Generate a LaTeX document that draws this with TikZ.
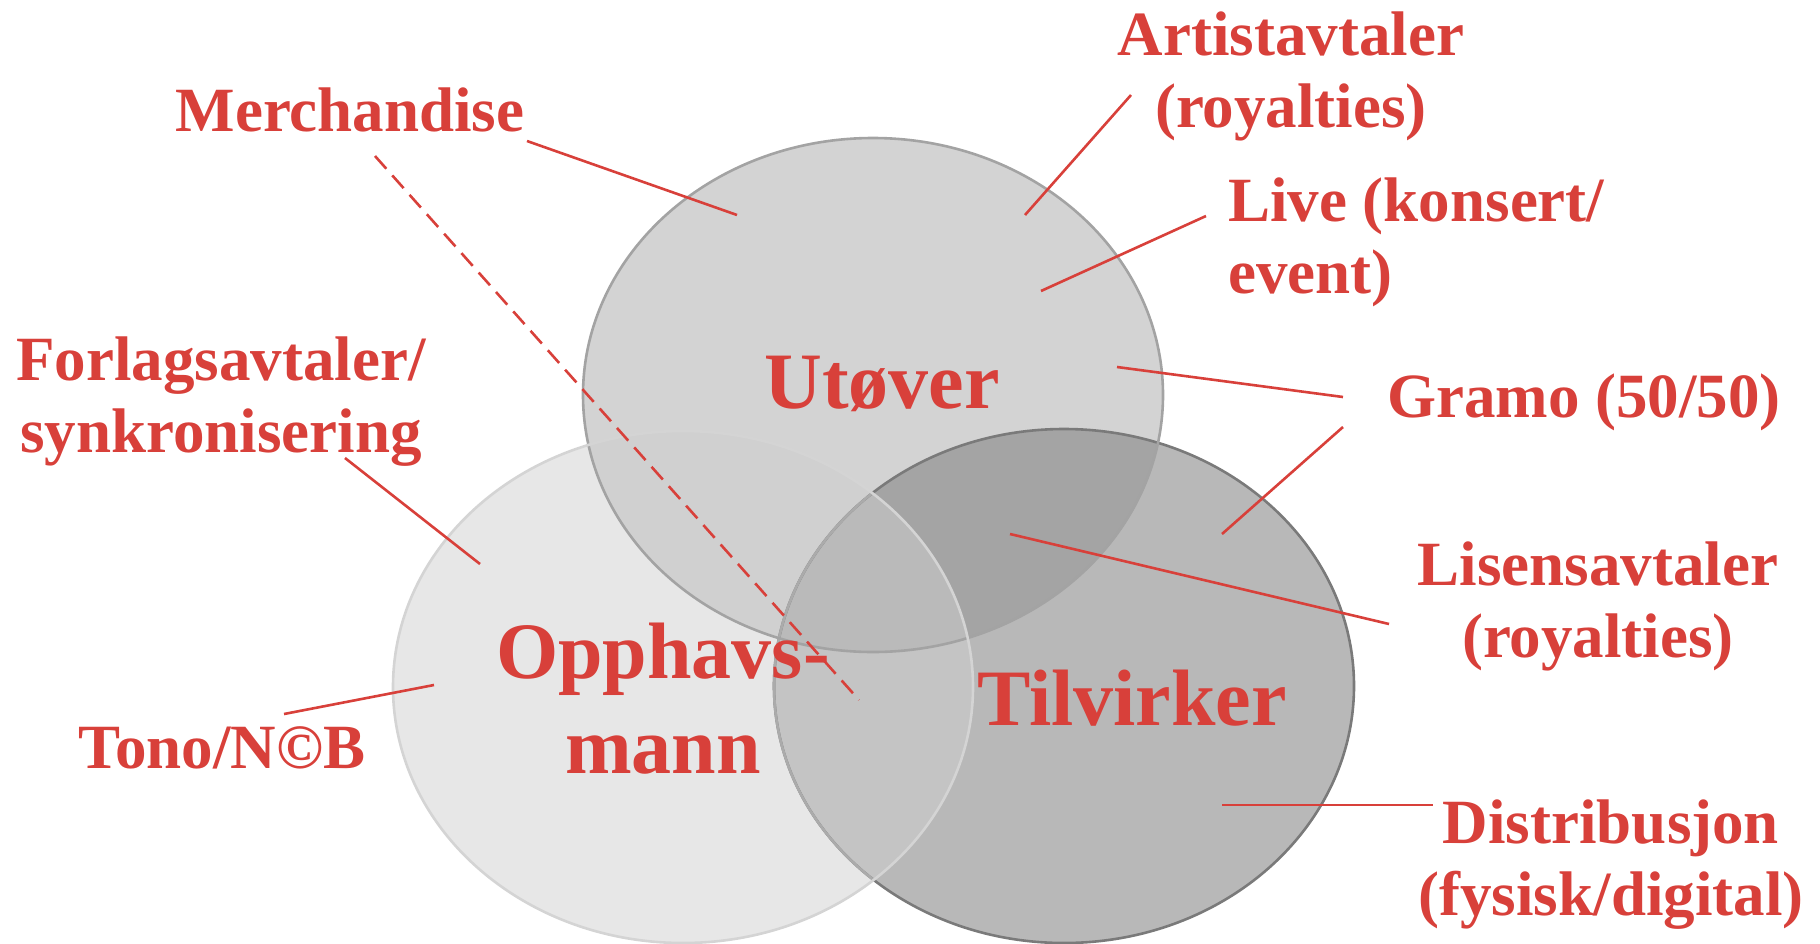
\documentclass[tikz,border=0pt]{standalone}
\usepackage{fontspec}
\setmainfont{Liberation Serif}
\usetikzlibrary{positioning}

\definecolor{labelred}{RGB}{216,64,58}
\definecolor{onlyO}{HTML}{E7E7E7}
\definecolor{onlyU}{HTML}{D3D3D3}
\definecolor{onlyT}{HTML}{B8B8B8}
\definecolor{capUO}{HTML}{D0D0D0}
\definecolor{capUT}{HTML}{A4A4A4}
\definecolor{capOT}{HTML}{C4C4C4}
\definecolor{capUOT}{HTML}{BABABA}

\newcommand\ellU{(873,395) ellipse [x radius=290pt, y radius=257pt]}
\newcommand\ellO{(683,687) ellipse [x radius=290pt, y radius=256pt]}
\newcommand\ellT{(1064,686) ellipse [x radius=290pt, y radius=257pt]}

\begin{document}
\begin{tikzpicture}[x=1pt,y=-1pt,
  lbl/.style={text=labelred,font=\bfseries\fontsize{63}{72}\selectfont,align=center,anchor=base,inner sep=0pt},
  big/.style={text=labelred,font=\bfseries\fontsize{80}{95}\selectfont,align=center,anchor=base,inner sep=0pt},
  leader/.style={draw=labelred,line width=2.6pt},
  rim/.style={line width=2.6pt}
]
\useasboundingbox (0,0) rectangle (1820,943);

% the three sets
\fill[onlyO] \ellO;
\fill[onlyU] \ellU;
\fill[onlyT] \ellT;
\begin{scope}
  \clip \ellO;
  \fill[capOT] \ellT;
\end{scope}
\begin{scope}
  \clip \ellU;
  \fill[capUO] \ellO;
  \fill[capUT] \ellT;
  \clip \ellO;
  \fill[capUOT] \ellT;
\end{scope}
\draw[rim,draw=black!52] \ellT;
\begin{scope}
  \clip \ellO;
  \draw[rim,draw=black!33] \ellT;
\end{scope}
\draw[rim,draw=black!36] \ellU;
\draw[rim,draw=black!17] \ellO;

% set names (base = last line)
\node[big] (utover) at (882,408) {Utøver};
\node[big] (opphav) at (663,773) {Opphavs-\\mann};
\node[big] (tilvirker) at (1132,725) {Tilvirker};

% labels
\node[lbl] (artist) at (1291,127) {Artistavtaler\\(royalties)};
\node[lbl] (merch) at (350,131) {Merchandise};
\node[lbl,align=left,anchor=base west] (live) at (1228,293) {Live (konsert/\\event)};
\node[lbl] (forlag) at (221,452) {Forlagsavtaler/\\synkronisering};
\node[lbl] (gramo) at (1584,417) {Gramo (50/50)};
\node[lbl] (lisens) at (1598,657) {Lisensavtaler\\(royalties)};
\node[lbl] (distr) at (1611,915) {Distribusjon\\(fysisk/digital)};
\node[lbl] (tono) at (222,768) {Tono/N©B};

% leader ends
\coordinate (merchA) at (527,141);  \coordinate (merchB) at (737,215);
\coordinate (merchC) at (375,156);  \coordinate (merchD) at (859,700);
\coordinate (artistA) at (1131,95); \coordinate (artistB) at (1025,215);
\coordinate (liveA) at (1206,216);  \coordinate (liveB) at (1041,291);
\coordinate (gramoA) at (1343,397); \coordinate (gramoB) at (1117,367);
\coordinate (gramoC) at (1343,427); \coordinate (gramoD) at (1222,534);
\coordinate (lisensA) at (1389,624); \coordinate (lisensB) at (1010,534);
\coordinate (distrA) at (1433,805); \coordinate (distrB) at (1222,805);
\coordinate (forlagA) at (345,458); \coordinate (forlagB) at (480,564);
\coordinate (tonoA) at (284,714);   \coordinate (tonoB) at (434,685);

\draw[leader] (merchA) -- (merchB);
\draw[leader,dash pattern=on 17pt off 9pt] (merchC) -- (merchD);
\draw[leader] (artistA) -- (artistB);
\draw[leader] (liveA) -- (liveB);
\draw[leader] (gramoB) -- (gramoA);
\draw[leader] (gramoC) -- (gramoD);
\draw[leader] (lisensB) -- (lisensA);
\draw[leader] (distrB) -- (distrA);
\draw[leader] (forlagA) -- (forlagB);
\draw[leader] (tonoA) -- (tonoB);
\end{tikzpicture}
\end{document}
